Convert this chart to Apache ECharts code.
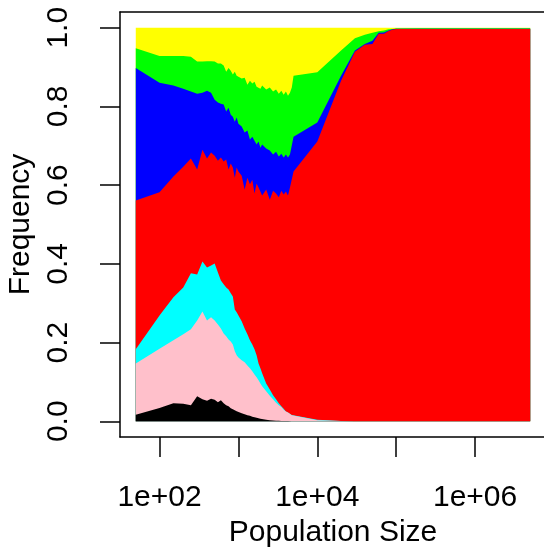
<!DOCTYPE html>
<html><head><meta charset="utf-8">
<script src="https://cdn.jsdelivr.net/npm/echarts@6/dist/echarts.min.js"></script>
<style>html,body{margin:0;padding:0;background:#fff;overflow:hidden;width:544px;height:558px}#c{width:544px;height:558px}</style>
</head><body><div id="c"></div>
<script>
// Population sizes (x) and cumulative frequency tops of each stacked layer
const popSize = [50,100,150,200,250,300,350,400,450,500,550,600,650,700,750,800,850,900,950,1000,
  1100,1200,1300,1400,1500,1600,1700,1800,1900,2000,
  2250,2500,2750,3000,3250,3500,3750,4000,4250,4500,4750,5000,
  10000,20000,30000,40000,50000,60000,70000,80000,90000,100000,
  200000,500000,1000000,2000000,5000000];

const blackTop = [0.0165,0.034,0.0457,0.0444,0.0406,0.0635,0.0558,0.0520,0.0571,0.0546,0.0482,0.0533,0.0457,0.0406,0.0381,0.0330,0.0305,0.0279,0.0254,0.0228,
  0.0203,0.0178,0.0152,0.0140,0.0114,0.0102,0.0089,0.0076,0.0063,0.0051,
  0.0038,0.0025,0.0018,0.0013,0.0010,0.0008,0.0006,0.0005,0.0004,0.0003,0.0003,0.0002,
  0,0,0,0,0,0,0,0,0,0,
  0,0,0,0,0];

const pinkTop = [0.147,0.184,0.206,0.221,0.234,0.256,0.279,0.256,0.264,0.256,0.246,0.236,0.223,0.216,0.208,0.203,0.195,0.178,0.168,0.162,
  0.155,0.150,0.142,0.135,0.127,0.119,0.112,0.104,0.096,0.089,
  0.076,0.065,0.056,0.047,0.041,0.036,0.029,0.025,0.022,0.018,0.015,0.014,
  0.0025,0.0005,0,0,0,0,0,0,0,0,
  0,0,0,0,0];

const cyanTop = [0.183,0.269,0.315,0.340,0.376,0.373,0.406,0.391,0.396,0.401,0.378,0.358,0.348,0.340,0.335,0.325,0.317,0.284,0.277,0.279,
  0.254,0.236,0.221,0.206,0.195,0.183,0.168,0.147,0.135,0.122,
  0.096,0.081,0.066,0.056,0.046,0.038,0.032,0.025,0.022,0.019,0.016,0.015,
  0.004,0.0005,0,0,0,0,0,0,0,0,
  0,0,0,0,0];

const redTop = [0.561,0.582,0.622,0.647,0.668,0.640,0.690,0.668,0.683,0.675,0.662,0.670,0.660,0.665,0.640,0.655,0.645,0.619,0.645,0.635,
  0.624,0.589,0.619,0.602,0.614,0.579,0.604,0.594,0.599,0.574,
  0.589,0.563,0.586,0.579,0.569,0.586,0.576,0.584,0.574,0.594,0.589,0.635,
  0.711,0.865,0.939,0.957,0.959,0.985,0.985,0.992,0.995,0.997,
  0.997,0.997,0.997,0.997,0.997];

const blueTop = [0.898,0.860,0.853,0.845,0.838,0.832,0.835,0.840,0.835,0.817,0.810,0.807,0.805,0.787,0.797,0.779,0.774,0.761,0.772,0.756,
  0.749,0.734,0.739,0.716,0.723,0.713,0.703,0.711,0.695,0.703,
  0.693,0.688,0.678,0.685,0.673,0.680,0.670,0.678,0.670,0.678,0.673,0.723,
  0.759,0.878,0.942,0.959,0.967,0.987,0.988,0.993,0.996,0.9975,
  0.9975,0.9975,0.9975,0.9975,0.9975];

const greenTop = [0.948,0.928,0.928,0.928,0.926,0.914,0.914,0.915,0.915,0.914,0.909,0.909,0.904,0.888,0.898,0.891,0.881,0.888,0.878,0.883,
  0.871,0.873,0.855,0.865,0.858,0.863,0.850,0.855,0.845,0.853,
  0.843,0.848,0.838,0.843,0.832,0.840,0.830,0.838,0.827,0.835,0.848,0.878,
  0.887,0.942,0.973,0.982,0.987,0.991,0.993,0.996,0.997,0.998,
  0.9985,0.9985,0.9985,0.9985,0.9985];

const yellowTop = [1,1,1,1,1,1,1,1,1,1,1,1,1,1,1,1,1,1,1,1,
  1,1,1,1,1,1,1,1,1,1,
  1,1,1,1,1,1,1,1,1,1,1,1,
  1,1,1,1,1,1,1,1,1,1,
  1,1,1,1,1];

const xTickExponents = [2,3,4,5,6];
const xLabelExponents = [2,4,6];
const yTicks = [0,0.2,0.4,0.6,0.8,1.0];

const layers = [
  {name:'yellow', color:'#ffff00', values:yellowTop},
  {name:'green',  color:'#00ff00', values:greenTop},
  {name:'blue',   color:'#0000ff', values:blueTop},
  {name:'red',    color:'#ff0000', values:redTop},
  {name:'cyan',   color:'#00ffff', values:cyanTop},
  {name:'pink',   color:'#ffc0cb', values:pinkTop},
  {name:'black',  color:'#000000', values:blackTop}
];

const FONT = 'Liberation Sans, Arial, sans-serif';
const X_MIN = 1.499, X_MAX = 6.9751;
const boxLine = {show:true, onZero:false, lineStyle:{color:'#000', width:1.5}};
const chart = echarts.init(document.getElementById('c'), null, {renderer:'canvas'});
chart.setOption({
  animation:false,
  backgroundColor:'#ffffff',
  grid:{left:120, top:12, width:432, height:425, show:false, containLabel:false, outerBoundsMode:'none'},
  xAxis:[{
    type:'value', min:X_MIN, max:X_MAX, position:'bottom',
    axisLine:boxLine, splitLine:{show:false},
    axisTick:{show:true, inside:false, length:20, customValues:xTickExponents, lineStyle:{color:'#000', width:1.5}},
    axisLabel:{customValues:xLabelExponents, formatter:v=>'1e+'+String(v).padStart(2,'0'),
      fontSize:30, fontFamily:FONT, color:'#000', margin:46},
    name:'Population Size', nameLocation:'middle', nameGap:74,
    nameTextStyle:{fontSize:30, fontFamily:FONT, color:'#000', padding:[0,6,0,0]}
  },{
    type:'value', min:X_MIN, max:X_MAX, position:'top',
    axisLine:boxLine, axisTick:{show:false}, axisLabel:{show:false}, splitLine:{show:false}
  }],
  yAxis:{
    type:'value', min:-0.04, max:1.04, position:'left',
    axisLine:boxLine, splitLine:{show:false},
    axisTick:{show:true, inside:false, length:20, customValues:yTicks, lineStyle:{color:'#000', width:1.5}},
    axisLabel:{customValues:yTicks, formatter:v=>Number(v).toFixed(1), rotate:90,
      fontSize:30, fontFamily:FONT, color:'#000', margin:46},
    name:'Frequency', nameLocation:'middle', nameGap:80, nameRotate:90,
    nameTextStyle:{fontSize:30, fontFamily:FONT, color:'#000'}
  },
  series: layers.map((l,k)=>({
    name:l.name, type:'line', silent:true, symbol:'none', showSymbol:false,
    xAxisIndex:0, yAxisIndex:0,
    z:2+k*0.01,
    lineStyle:{width:0, color:l.color},
    areaStyle:{color:l.color, opacity:1},
    data: popSize.map((p,i)=>[Math.log10(p), l.values[i]])
  }))
});
</script>
</body></html>
